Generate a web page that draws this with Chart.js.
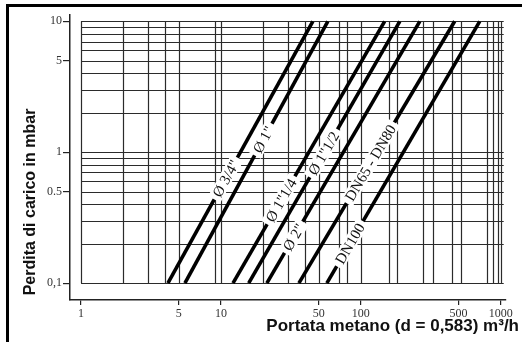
<!DOCTYPE html>
<html>
<head>
<meta charset="utf-8">
<script src="https://cdn.jsdelivr.net/npm/chart.js@4.4.1/dist/chart.umd.min.js"></script>
<style>
  html, body { margin: 0; padding: 0; background: #fff; }
  #wrap { position: relative; width: 522px; height: 342px; }
</style>
</head>
<body>
<div id="wrap"><canvas id="lossChart" width="522" height="342"></canvas></div>
<script>
// pipe sizes, flow (m³/h) where each line crosses 0.1 mbar and 10 mbar
const pipeSizes = ['Ø 3/4"', 'Ø 1"', 'Ø 1"1/4', 'Ø 1"1/2', 'Ø 2"', 'DN65 - DN80', 'DN100'];
const flowAtMin = [4.18, 5.53, 12.2, 15.8, 21.3, 36.1, 57.2];
const flowAtMax = [45.4, 58.1, 148, 190, 264, 469, 708];
const pressureMin = 0.1;
const pressureMax = 10;
// pressure (mbar) where the size label sits on its line
const labelPressure = [0.63, 1.25, 0.43, 0.98, 0.224, 0.83, 0.2];

const xTicks = [1, 5, 10, 50, 100, 500, 1000];
const xTickLabels = ['1', '5', '10', '50', '100', '500', '1000'];
const yTicks = [0.1, 0.5, 1, 5, 10];
const yTickLabels = ['0,1', '0.5', '1', '5', '10'];

// log paper lines
const gridX = [1, 2, 3, 4, 5, 9, 10, 20, 30, 40, 50, 70, 80, 100, 160, 180, 280, 330, 450, 520, 800, 880, 950, 1000];
const gridY = [0.1, 0.2, 0.3, 0.4, 0.5, 0.6, 0.7, 0.8, 0.9, 1, 2, 3, 4, 5, 6, 7, 8, 9, 10];

const gridPlugin = {
    id: 'logPaper',
    beforeDatasetsDraw(chart) {
        const {ctx, scales: {x, y}} = chart;
        const left = x.getPixelForValue(1), right = x.getPixelForValue(1000);
        const top = y.getPixelForValue(10), bottom = y.getPixelForValue(0.1);
        ctx.save();
        ctx.strokeStyle = '#2b2b2b';
        ctx.lineWidth = 1.2;
        ctx.beginPath();
        gridX.forEach(v => {
            const px = Math.round(x.getPixelForValue(v)) + 0.5;
            ctx.moveTo(px, top);
            ctx.lineTo(px, bottom);
        });
        gridY.forEach(v => {
            const py = Math.round(y.getPixelForValue(v)) + 0.5;
            ctx.moveTo(left, py);
            ctx.lineTo(right + 3, py);
        });
        ctx.stroke();
        ctx.restore();
    }
};

const labelPlugin = {
    id: 'pipeLabels',
    afterDatasetsDraw(chart) {
        const {ctx, scales: {y}} = chart;
        ctx.save();
        ctx.font = '15px "Liberation Serif"';
        ctx.textAlign = 'center';
        ctx.textBaseline = 'middle';
        chart.data.datasets.forEach((ds, i) => {
            const [p0, p1] = chart.getDatasetMeta(i).data;
            const py = y.getPixelForValue(labelPressure[i]);
            const t = (py - p0.y) / (p1.y - p0.y); // straight in pixel space on log-log
            const px = p0.x + t * (p1.x - p0.x);
            const angle = Math.atan2(p1.y - p0.y, p1.x - p0.x);
            const w = ctx.measureText(ds.label).width;
            ctx.save();
            ctx.translate(px, py);
            ctx.rotate(angle);
            ctx.fillStyle = '#fff';
            ctx.fillRect(-w / 2 - 4, -7, w + 8, 14);
            ctx.fillStyle = '#111';
            ctx.fillText(ds.label, 0, 1);
            ctx.restore();
        });
        ctx.restore();
    }
};

const framePlugin = {
    id: 'frameAndTitles',
    afterDraw(chart) {
        const ctx = chart.ctx;
        ctx.save();
        ctx.fillStyle = '#000';
        ctx.fillRect(6, 4, 516, 3);
        ctx.fillRect(6, 4, 3, 338);

        ctx.fillStyle = '#111';
        ctx.font = 'bold 17px "Liberation Sans"';
        ctx.textAlign = 'right';
        ctx.textBaseline = 'alphabetic';
        ctx.fillText('Portata metano (d = 0,583) m³/h', 519, 331);

        ctx.font = 'bold 16px "Liberation Sans"';
        ctx.textAlign = 'center';
        ctx.translate(35, 202);
        ctx.rotate(-Math.PI / 2);
        ctx.fillText('Perdita di carico in mbar', 0, 0);
        ctx.restore();
    }
};

new Chart('lossChart', {
    type: 'scatter',
    data: {
        datasets: pipeSizes.map((name, i) => ({
            label: name,
            data: [{x: flowAtMin[i], y: pressureMin}, {x: flowAtMax[i], y: pressureMax}],
            showLine: true,
            borderColor: '#000',
            borderWidth: 3.6,
            pointRadius: 0,
        }))
    },
    options: {
        responsive: false,
        animation: false,
        layout: {padding: {top: 15, right: 16, left: 0, bottom: 0}},
        plugins: {
            legend: {display: false},
            tooltip: {enabled: false},
        },
        scales: {
            x: {
                type: 'logarithmic',
                min: 0.834,
                max: 1091,
                afterBuildTicks: s => { s.ticks = xTicks.map(v => ({value: v})); },
                afterFit: s => { s.height = 42; },
                ticks: {
                    autoSkip: false,
                    maxRotation: 0,
                    padding: 2,
                    color: '#333',
                    font: {family: '"Liberation Serif"', size: 12},
                    callback: (val) => xTickLabels[xTicks.indexOf(val)],
                },
                grid: {drawOnChartArea: false, drawTicks: true, tickLength: 5, color: '#222', lineWidth: 1.2},
                border: {display: true, color: '#222', width: 1.5},
            },
            y: {
                type: 'logarithmic',
                min: 0.0743,
                max: 11.17,
                afterBuildTicks: s => { s.ticks = yTicks.map(v => ({value: v})); },
                afterFit: s => { s.width = 70; },
                ticks: {
                    autoSkip: false,
                    padding: 1,
                    color: '#333',
                    font: {family: '"Liberation Serif"', size: 12},
                    callback: (val) => yTickLabels[yTicks.indexOf(val)],
                },
                grid: {drawOnChartArea: false, drawTicks: true, tickLength: 7, color: '#222', lineWidth: 1.2},
                border: {display: true, color: '#222', width: 1.5},
            }
        }
    },
    plugins: [gridPlugin, labelPlugin, framePlugin]
});
</script>
</body>
</html>
